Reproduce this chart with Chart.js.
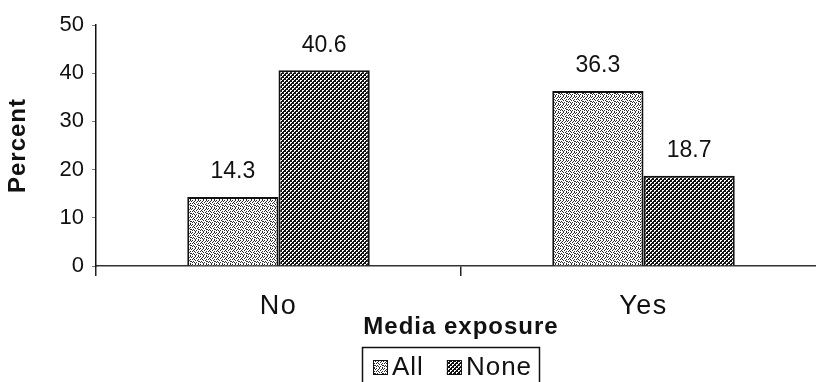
<!DOCTYPE html>
<html>
<head>
<meta charset="utf-8">
<script src="https://cdn.jsdelivr.net/npm/chart.js@4/dist/chart.umd.min.js"></script>
<style>
  html, body { margin: 0; padding: 0; background: #fff; overflow: hidden; }
  #wrap { width: 830px; height: 382px; }
</style>
</head>
<body>
<div id="wrap"><canvas id="c" width="830" height="382"></canvas></div>
<script>
// Share of respondents by media exposure
const categories = ['No', 'Yes'];
const allValues = [14.3, 36.3];
const noneValues = [40.6, 18.7];
const seriesNames = ['All', 'None'];
const yMin = 0, yMax = 50, yStep = 10;
const yTitle = 'Percent';
const xTitle = 'Media exposure';

const FONT = '"Liberation Sans", Arial, Helvetica, sans-serif';
const canvas = document.getElementById('c');
const ctx0 = canvas.getContext('2d');

// Build a repeating bitmap fill from rows of 0/1 (1 = ink)
function bitmapPattern(rows, ink, paper) {
  const t = document.createElement('canvas');
  t.width = rows[0].length; t.height = rows.length;
  const g = t.getContext('2d');
  g.fillStyle = paper; g.fillRect(0, 0, t.width, t.height);
  g.fillStyle = ink;
  rows.forEach((r, y) => [...r].forEach((ch, x) => { if (ch === '1') g.fillRect(x, y, 1, 1); }));
  return ctx0.createPattern(t, 'repeat');
}

const stipple = bitmapPattern([
  '10010010',
  '00100101',
  '01001000',
  '10100010',
  '00010100',
  '01000011',
  '10101000',
  '00010010'
], '#2a2a2a', '#ffffff');

const checker = bitmapPattern([
  '0011',
  '0111',
  '1100',
  '1101'
], '#111111', '#ffffff');

// Wrap a scale drawing method so its text gets a little extra tracking
function track(scale, method, px) {
  const key = '_tracked_' + method;
  if (scale[key]) return;
  const orig = scale[method];
  scale[method] = function (...args) {
    const c = this.ctx;
    c.save();
    c.letterSpacing = px;
    orig.apply(this, args);
    c.restore();
  };
  scale[key] = true;
}

const valueLabels = {
  id: 'valueLabels',
  afterDatasetsDraw(chart) {
    const c = chart.ctx;
    c.save();
    c.font = '23px ' + FONT;
    c.fillStyle = '#111';
    c.textAlign = 'center';
    c.textBaseline = 'middle';
    chart.data.datasets.forEach((ds, i) => {
      chart.getDatasetMeta(i).data.forEach((bar, j) => {
        c.fillText(ds.data[j].toFixed(1), bar.x, bar.y - 25);
      });
    });
    c.restore();
  }
};

const boxedLegend = {
  id: 'boxedLegend',
  afterDraw(chart) {
    const c = chart.ctx;
    c.save();
    c.strokeStyle = '#111';
    c.lineWidth = 1.5;
    c.strokeRect(362.5, 347.5, 177, 60);
    c.font = '26px ' + FONT;
    c.letterSpacing = '1px';
    c.textBaseline = 'alphabetic';
    let x = 373;
    chart.data.datasets.forEach((ds) => {
      c.fillStyle = ds.backgroundColor;
      c.fillRect(x, 360, 15, 15);
      c.strokeStyle = '#111';
      c.lineWidth = 1;
      c.strokeRect(x + 0.5, 360.5, 14, 14);
      c.fillStyle = '#111';
      c.fillText(ds.label, x + 19, 375);
      x += 19 + c.measureText(ds.label).width + 23;
    });
    c.restore();
  }
};

new Chart(canvas, {
  type: 'bar',
  data: {
    labels: categories,
    datasets: [
      { label: seriesNames[0], data: allValues, backgroundColor: stipple, borderColor: '#111', borderWidth: 2 },
      { label: seriesNames[1], data: noneValues, backgroundColor: checker, borderColor: '#111', borderWidth: 2 }
    ]
  },
  options: {
    responsive: false,
    animation: false,
    events: [],
    layout: { padding: { top: 25, right: 4, left: 0, bottom: 0 } },
    datasets: { bar: { categoryPercentage: 0.5, barPercentage: 1.0 } },
    plugins: { legend: { display: false }, tooltip: { enabled: false } },
    scales: {
      x: {
        offset: true,
        grid: { display: true, drawOnChartArea: false, drawTicks: true, tickLength: 10, color: '#222', lineWidth: 1.5, offset: true },
        border: { display: true, color: '#333', width: 1.5 },
        ticks: { font: { family: FONT, size: 27 }, color: '#111', padding: 14, maxRotation: 0 },
        title: { display: true, text: xTitle, color: '#111', font: { family: FONT, size: 24, weight: 'bold' }, padding: { top: 0, bottom: 40 } },
        afterFit(scale) {
          scale.height = 116;
          track(scale, 'drawLabels', '1.5px');
          track(scale, 'drawTitle', '1px');
        }
      },
      y: {
        min: yMin,
        max: yMax,
        grid: { display: true, drawOnChartArea: false, drawTicks: true, tickLength: 4, color: '#777', lineWidth: 1 },
        border: { display: true, color: '#111', width: 1.5 },
        ticks: { stepSize: yStep, font: { family: FONT, size: 22 }, color: '#111', padding: 8 },
        title: { display: true, text: yTitle, color: '#111', font: { family: FONT, size: 24, weight: 'bold' }, padding: { top: 4, bottom: 0 } },
        afterFit(scale) {
          scale.width = 96;
          track(scale, 'drawTitle', '1px');
        }
      }
    }
  },
  plugins: [valueLabels, boxedLegend]
});
</script>
</body>
</html>
